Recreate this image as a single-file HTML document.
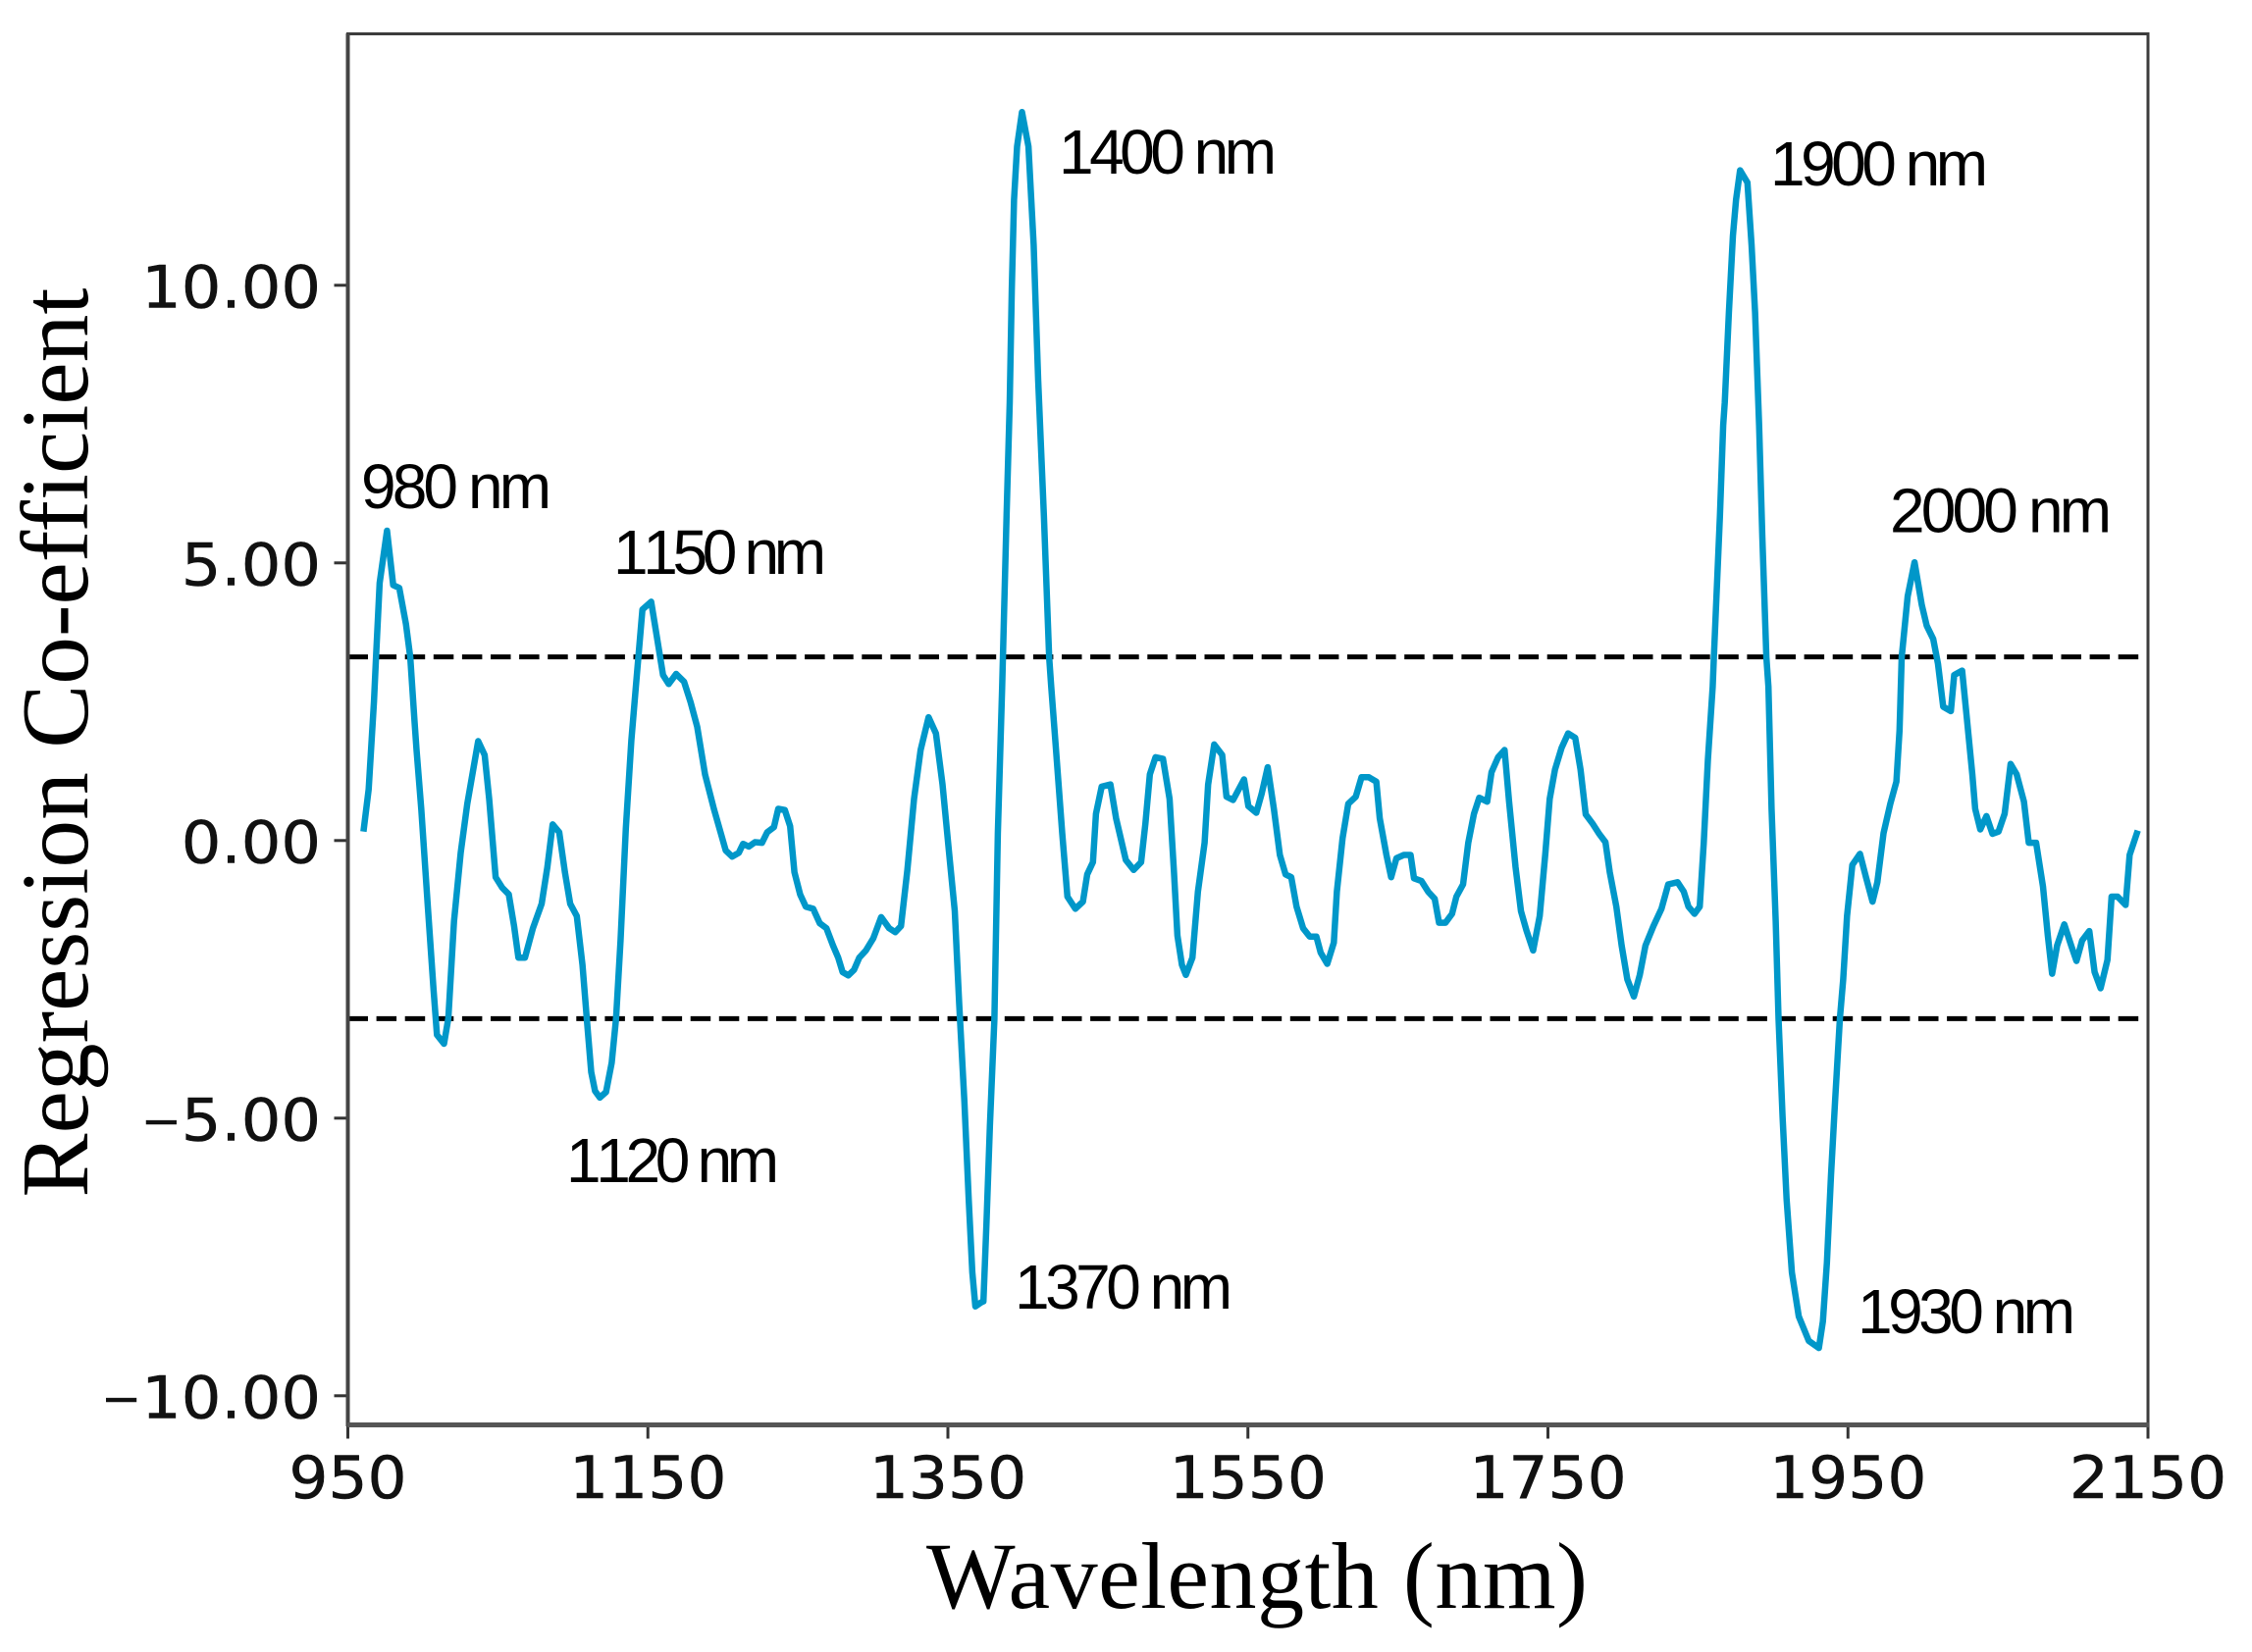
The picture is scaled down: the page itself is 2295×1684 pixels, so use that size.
<!DOCTYPE html>
<html lang="en">
<head>
<meta charset="utf-8">
<title>Regression Co-efficient vs Wavelength</title>
<style>
html,body{margin:0;padding:0;background:#fff;}
svg{display:block;}
</style>
</head>
<body>
<svg id="chart" xmlns="http://www.w3.org/2000/svg" width="2295" height="1684" viewBox="0 0 2295 1684">
  <rect x="0" y="0" width="2295" height="1684" fill="#ffffff"/>
  <g id="ticks"></g>
  <g id="thresholds"></g>
  <g id="series"></g>
  <rect x="354.5" y="34.5" width="1834.5" height="1417.5" fill="none" stroke="#3c3c3c" stroke-width="3"/>
  <line x1="354.5" x2="354.5" y1="34" y2="1454" stroke="#444" stroke-width="4"/>
  <line x1="354" x2="2190" y1="1452.5" y2="1452.5" stroke="#555" stroke-width="5"/>
  <g id="tick-labels" font-family="'DejaVu Sans',sans-serif" font-size="60" fill="#111" stroke="#111" stroke-width="0.5"></g>
  <text transform="translate(89,757) rotate(-90)" text-anchor="middle" font-family="'Liberation Serif',serif" font-size="97.5" fill="#000">Regression Co-efficient</text>
  <text x="944" y="1639" textLength="674" font-family="'Liberation Serif',serif" font-size="96" fill="#000">Wavelength (nm)</text>
  <g font-family="'Liberation Sans',sans-serif" font-size="64" fill="#000" style="font-kerning:none">
    <text x="368" y="518" textLength="194">980 nm</text>
    <text x="625" y="585" textLength="217">1150 nm</text>
    <text x="1079" y="177" textLength="222">1400 nm</text>
    <text x="577" y="1205" textLength="217">1120 nm</text>
    <text x="1034" y="1334" textLength="222">1370 nm</text>
    <text x="1804" y="189" textLength="222">1900 nm</text>
    <text x="1926" y="542.5" textLength="226">2000 nm</text>
    <text x="1893" y="1359" textLength="222">1930 nm</text>
  </g>
</svg>
<script>
var xTickValues = [950, 1150, 1350, 1550, 1750, 1950, 2150];
var xTickLabels = ['950', '1150', '1350', '1550', '1750', '1950', '2150'];
var yTickValues = [10, 5, 0, -5, -10];
var yTickLabels = ['10.00', '5.00', '0.00', '\u22125.00', '\u221210.00'];
var thresholdValues = [3.306, -3.207];
var wavelengths = [
960.4,963.9,967.4,968.8,971.2,976.1,980.2,984.3,988.7,991.6,994.5,995.8,998.9,1003.3,1007.1,1009.4,1014.1,1017,1020.8,1025.2,
1029.6,1036.9,1041.2,1044.2,1048.5,1052.9,1057.3,1060.8,1063.7,1068.1,1073.4,1079.2,1083,1086.5,1090.9,1094.7,1098.2,1102.6,1106.4,1109.3,
1112.2,1114.8,1118,1122.1,1125.9,1128.8,1131.8,1135.3,1139,1142,1146.4,1152.2,1156,1160.1,1163.9,1168.9,1174.1,1178.5,1182.9,1188.1,
1194,1201.9,1206.2,1210.6,1213.5,1217.3,1221.4,1226.1,1229.6,1234,1236.9,1241.3,1244.8,1247.7,1251.5,1255.3,1260.2,1264.6,1269,1273.4,
1276.9,1279.8,1283.6,1287.4,1290.9,1295.3,1300.3,1305.5,1310.8,1314.9,1318.7,1323,1327.4,1331.8,1337.1,1342,1346.4,1350.8,1354.6,1357.5,
1361,1363.9,1366.3,1368.3,1372.1,1373.7,1375.7,1378,1381,1383.3,1386.2,1389.1,1391.2,1392.6,1394.1,1396.1,1399.4,1403.7,1407.2,1410.2,
1414,1417.5,1418.9,1421.8,1426.2,1429.7,1435,1440,1442.9,1446.7,1448.7,1452.5,1458.3,1462.1,1468.6,1473.8,1478.8,1481.7,1484.6,1488.4,
1493.4,1497.8,1500.7,1503,1506,1508.6,1513,1516.7,1521.1,1523.5,1527.5,1532.8,1535.7,1540.1,1547.4,1550.3,1555.6,1559.1,1563.2,1567.3,
1571.3,1575.1,1578.9,1582.4,1586.8,1591.2,1595.6,1598.5,1602.9,1607.3,1609.3,1613.1,1616.9,1621.9,1625.7,1630.6,1635.6,1637.9,1642.3,1645.5,
1649,1654,1658.4,1660.7,1665.7,1670.1,1674.5,1677.4,1681.7,1686.1,1689,1693.4,1696.9,1700.7,1704.2,1709.5,1712.4,1716.8,1721.1,1724.1,
1728.4,1732,1735.7,1740.1,1744.5,1748.3,1751.2,1754.7,1759.1,1763.5,1768.2,1771.7,1775.2,1779.6,1783.9,1788.3,1791.2,1795.6,1799.1,1802.9,
1807.3,1811.2,1815,1820.3,1825.7,1830.2,1836.4,1840.5,1843.7,1847.7,1851.2,1853.9,1856.6,1859.8,1860.6,1864.7,1866.8,1867.9,1870.6,1873.3,
1875.4,1878.1,1883,1885.7,1888.1,1890.8,1892.9,1895.6,1897,1899.1,1901.8,1903.7,1906.4,1909.1,1912.6,1917.2,1923.9,1930.6,1933.3,1936,
1938.7,1941.4,1944.6,1946.8,1949.4,1952.9,1958,1962,1966.4,1969.6,1973.7,1978.2,1982.3,1984.4,1985.8,1989.8,1994.4,1999.2,2002.5,2006.8,
2010,2013.5,2018.6,2020.8,2026.1,2028.8,2032.9,2034.8,2038.2,2042.3,2046.3,2050.4,2054.4,2058.4,2062.5,2067.3,2070.5,2075.4,2080,2083.2,
2086.1,2089.4,2094.2,2098.8,2102.3,2106.1,2110.9,2114.4,2118.4,2123,2125.7,2129.7,2135.1,2137.8,2143.2
];
var coefficients = [
0.16,0.92,2.5,3.3,4.64,5.58,4.6,4.55,3.9,3.3,2.13,1.63,0.57,-1.19,-2.68,-3.5,-3.66,-3.2,-1.45,-0.22,
0.66,1.79,1.54,0.75,-0.66,-0.85,-0.97,-1.54,-2.11,-2.11,-1.58,-1.14,-0.48,0.29,0.15,-0.57,-1.14,-1.36,-2.24,-3.21,
-4.17,-4.51,-4.63,-4.53,-4,-3.21,-1.8,0.22,1.8,2.77,4.16,4.3,3.67,2.98,2.82,3,2.86,2.49,2.05,1.19,
0.57,-0.18,-0.29,-0.22,-0.06,-0.11,-0.03,-0.04,0.15,0.24,0.57,0.55,0.26,-0.57,-0.97,-1.19,-1.23,-1.49,-1.58,-1.89,
-2.11,-2.37,-2.43,-2.33,-2.11,-1.98,-1.76,-1.38,-1.58,-1.65,-1.54,-0.53,0.75,1.63,2.22,1.93,1.01,-0.22,-1.27,-2.94,
-4.7,-6.46,-7.78,-8.39,-8.32,-8.3,-6.9,-5.14,-3.21,0.13,2.77,5.86,7.89,9.92,11.54,12.5,13.12,12.5,10.73,8.29,
5.86,3.3,2.77,1.72,0.13,-1.01,-1.23,-1.1,-0.61,-0.39,0.48,0.97,1.01,0.4,-0.35,-0.53,-0.39,0.31,1.19,1.5,
1.47,0.75,-0.57,-1.71,-2.24,-2.42,-2.11,-0.92,-0.04,1.01,1.73,1.54,0.79,0.73,1.1,0.62,0.5,0.84,1.32,0.57,
-0.26,-0.61,-0.66,-1.19,-1.58,-1.73,-1.73,-2.02,-2.22,-1.84,-0.92,0.04,0.66,0.79,1.14,1.14,1.06,0.4,-0.26,-0.66,
-0.32,-0.26,-0.26,-0.68,-0.73,-0.92,-1.05,-1.48,-1.48,-1.32,-1.01,-0.79,-0.04,0.48,0.77,0.7,1.23,1.5,1.63,0.7,
-0.48,-1.27,-1.62,-1.98,-1.36,-0.22,0.75,1.28,1.67,1.93,1.85,1.28,0.47,0.31,0.13,-0.03,-0.57,-1.19,-1.89,-2.5,
-2.81,-2.42,-1.89,-1.54,-1.23,-0.79,-0.75,-0.92,-1.19,-1.32,-1.19,-0.04,1.45,2.77,3.3,5.86,7.48,7.89,9.51,10.89,
11.54,12.07,11.85,10.73,9.51,7.48,5.46,3.3,2.77,0.57,-1.45,-3.21,-4.97,-6.46,-7.78,-8.57,-9.01,-9.14,-8.66,-7.6,
-6.02,-4.7,-3.21,-2.5,-1.36,-0.44,-0.24,-0.66,-1.1,-0.75,0.13,0.66,1.06,1.98,3.3,4.4,5.01,4.24,3.87,3.63,
3.18,2.41,2.33,2.98,3.06,2.33,1.19,0.57,0.2,0.44,0.12,0.16,0.48,1.38,1.19,0.7,-0.04,-0.04,-0.83,-1.71,
-2.4,-1.89,-1.51,-1.89,-2.17,-1.8,-1.63,-2.37,-2.66,-2.15,-1.01,-1.01,-1.16,-0.26,0.18
];

var svgNS = 'http://www.w3.org/2000/svg';
function xScale(nm) { return 354.5 + (nm - 950) * 1.52875; }
function yScale(v) { return 856.8 - v * 56.6; }
function make(tag, attrs, parent) {
  var el = document.createElementNS(svgNS, tag);
  for (var k in attrs) { el.setAttribute(k, attrs[k]); }
  parent.appendChild(el);
  return el;
}
var tickGroup = document.getElementById('ticks');
var labelGroup = document.getElementById('tick-labels');
var thresholdGroup = document.getElementById('thresholds');
var seriesGroup = document.getElementById('series');

xTickValues.forEach(function (v, i) {
  var px = xScale(v);
  var tick = make('line', {x1: px, x2: px, y1: 1452, y2: 1466.5, stroke: '#333', 'stroke-width': 3}, tickGroup);
  
  
  var label = make('text', {transform: 'translate(' + px + ',1527) scale(1.05,1)', 'text-anchor': 'middle'}, labelGroup);
  label.textContent = xTickLabels[i];
  
  
});
yTickValues.forEach(function (v, i) {
  var py = yScale(v);
  var tick = make('line', {x1: 340.5, x2: 354.5, y1: py, y2: py, stroke: '#333', 'stroke-width': 3}, tickGroup);
  
  
  var label = make('text', {transform: 'translate(327,' + (py + 22.5) + ') scale(1.065,1)', 'text-anchor': 'end'}, labelGroup);
  var text = yTickLabels[i];
  if (text.charAt(0) === '\u2212') {
    var minus = make('tspan', {'font-size': 46, dy: -4}, label);
    minus.textContent = text.charAt(0);
    var rest = make('tspan', {dy: 4}, label);
    rest.textContent = text.slice(1);
  } else {
    label.textContent = text;
  }
  
  
});
thresholdValues.forEach(function (v) {
  var py = yScale(v);
  var line = make('line', {x1: 354.5, x2: 2189, y1: py, y2: py, stroke: '#000', 'stroke-width': 5, 'stroke-dasharray': '20.5 8.6'}, thresholdGroup);
  
  
});
var pathData = wavelengths.map(function (nm, i) {
  return (i ? 'L' : 'M') + xScale(nm).toFixed(1) + ' ' + yScale(coefficients[i]).toFixed(1);
}).join(' ');
var seriesLine = make('path', {d: pathData, fill: 'none', stroke: '#0097c9', 'stroke-width': 6.5, 'stroke-linejoin': 'round', 'stroke-linecap': 'butt'}, seriesGroup);


</script>
</body>
</html>
